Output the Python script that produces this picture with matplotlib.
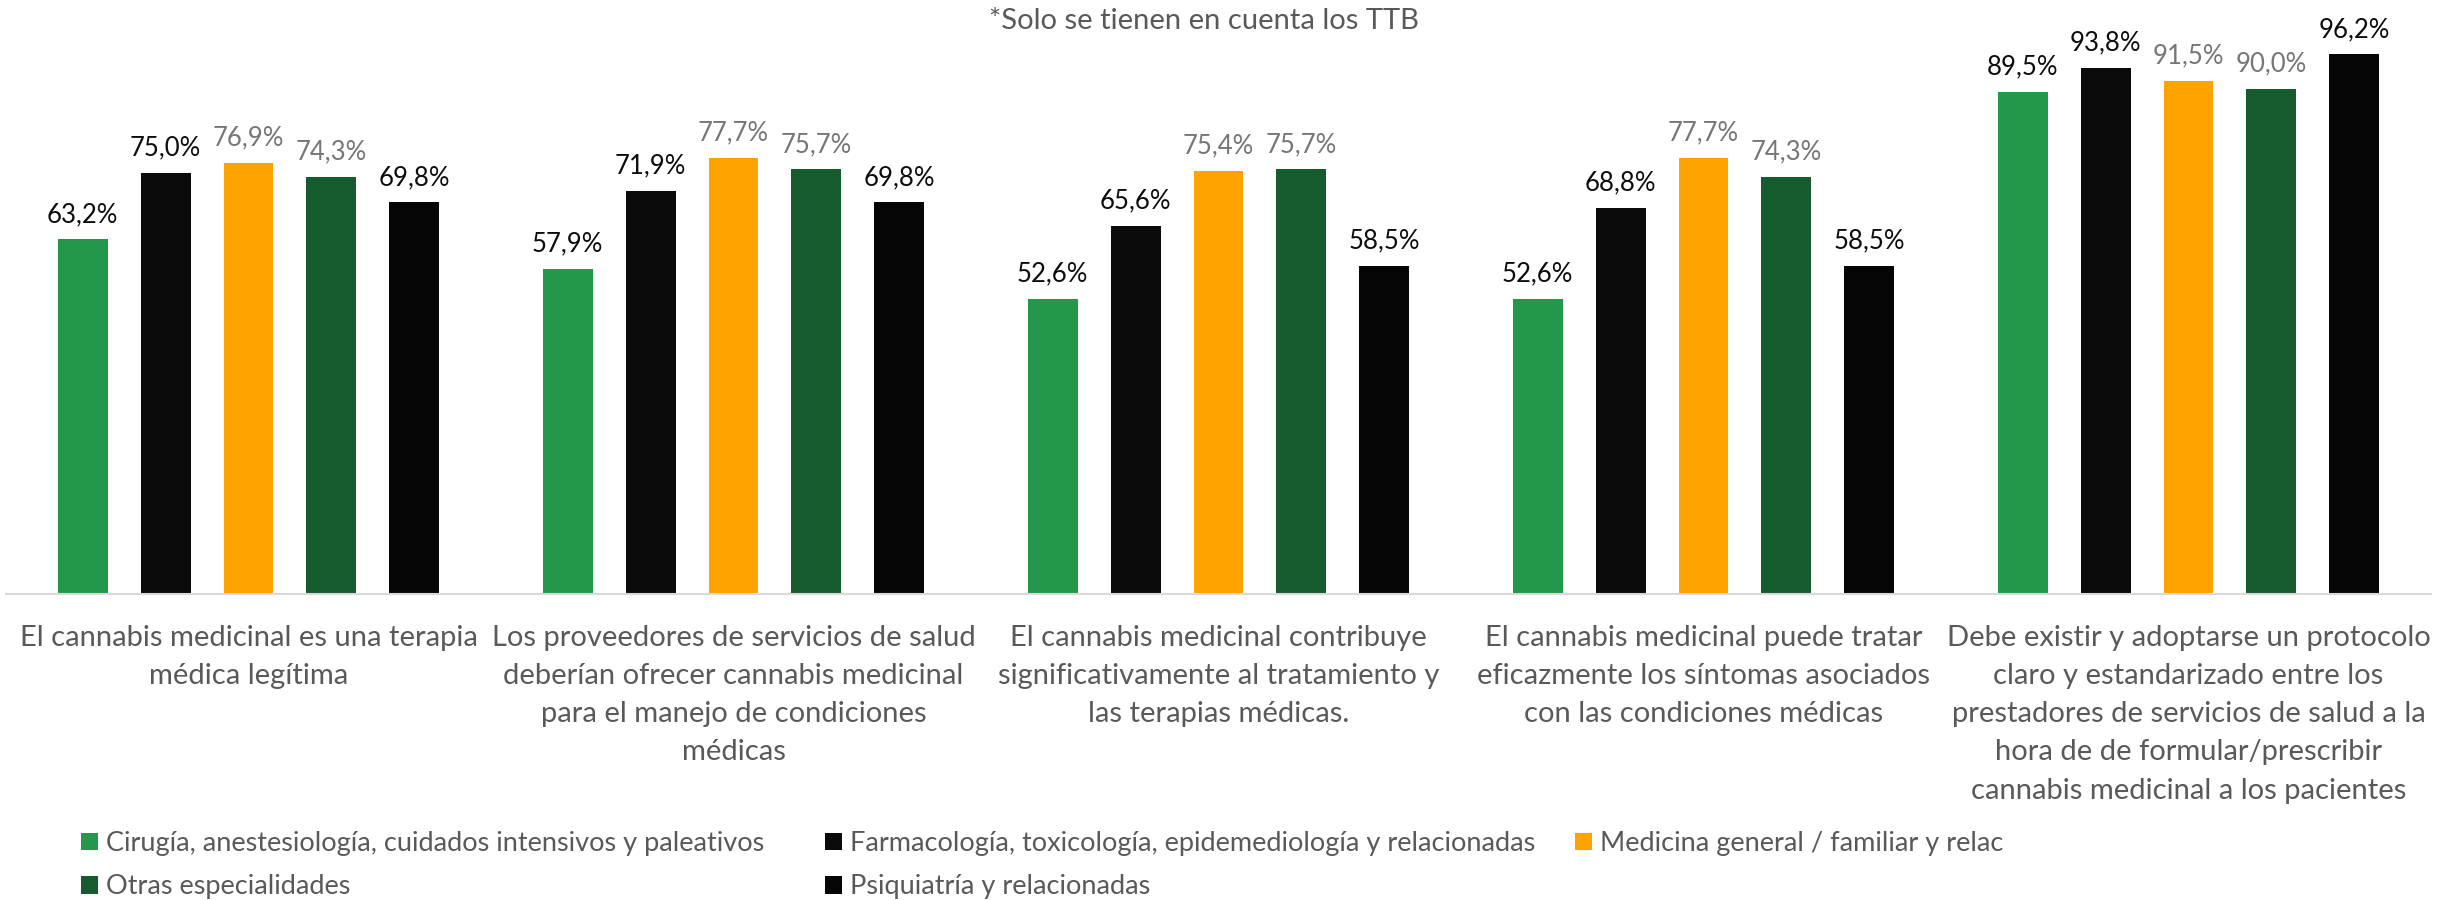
import numpy as np
import matplotlib.pyplot as plt
from matplotlib.patches import Patch

plt.rcParams['font.family'] = ['Lato', 'DejaVu Sans']

# data (percent of TTB answers)
categories = [
    "El cannabis medicinal es una terapia\nmédica legítima",
    "Los proveedores de servicios de salud\ndeberían ofrecer cannabis medicinal\npara el manejo de condiciones\nmédicas",
    "El cannabis medicinal contribuye\nsignificativamente al tratamiento y\nlas terapias médicas.",
    "El cannabis medicinal puede tratar\neficazmente los síntomas asociados\ncon las condiciones médicas",
    "Debe existir y adoptarse un protocolo\nclaro y estandarizado entre los\nprestadores de servicios de salud a la\nhora de de formular/prescribir\ncannabis medicinal a los pacientes",
]
series_names = [
    "Cirugía, anestesiología, cuidados intensivos y paleativos",
    "Farmacología, toxicología, epidemediología y relacionadas",
    "Medicina general / familiar y relac",
    "Otras especialidades",
    "Psiquiatría y relacionadas",
]
cirugia = [63.2, 57.9, 52.6, 52.6, 89.5]
farmacologia = [75.0, 71.9, 65.6, 68.8, 93.8]
medicina_general = [76.9, 77.7, 75.4, 77.7, 91.5]
otras = [74.3, 75.7, 75.7, 74.3, 90.0]
psiquiatria = [69.8, 69.8, 58.5, 58.5, 96.2]
series = [cirugia, farmacologia, medicina_general, otras, psiquiatria]

bar_colors = ['#23984A', '#0A0A0A', '#FFA300', '#165B2D', '#050505']
label_colors = ['#0D0D0D', '#0D0D0D', '#767676', '#767676', '#0D0D0D']

fig = plt.figure(figsize=(24.5, 9), dpi=100)
ax = fig.add_axes([6 / 2450, 306 / 900, 2425 / 2450, 561 / 900])

x = np.arange(len(categories))
pitch = 0.171
width = 0.103
for i, vals in enumerate(series):
    bars = ax.bar(x + (i - 2) * pitch, vals, width, color=bar_colors[i],
                  label=series_names[i])
    ax.bar_label(bars, labels=[f"{v:.1f}%".replace('.', ',') for v in vals],
                 padding=9, fontsize=18.5, color=label_colors[i])

ax.set_xlim(-0.5, 4.5)
ax.set_ylim(0, 100)
ax.set_yticks([])
for s in ['top', 'right', 'left']:
    ax.spines[s].set_visible(False)
ax.spines['bottom'].set_color('#D9D9D9')
ax.spines['bottom'].set_linewidth(1.5)
ax.set_xticks(x)
ax.set_xticklabels(categories, fontsize=21, color='#595959', linespacing=1.585)
ax.tick_params(axis='x', length=0, pad=22)

fig.text(1204 / 2450, 1 - 21 / 900, "*Solo se tienen en cuenta los TTB",
         ha='center', va='center', fontsize=21, color='#595959')

# legend laid out as three fixed-width columns like the original
handles = [Patch(facecolor=c) for c in bar_colors]
columns = [[0, 3], [1, 4], [2]]
col_x = [81, 825, 1575]
for cx, idx in zip(col_x, columns):
    fig.legend([handles[k] for k in idx], [series_names[k] for k in idx],
               loc='upper left', bbox_to_anchor=(cx / 2450, 1 - 831 / 900),
               frameon=False, fontsize=19.5, labelcolor='#595959',
               handlelength=0.63, handleheight=0.63, handletextpad=0.28,
               borderpad=0, borderaxespad=0, labelspacing=0.68)

fig.savefig('out.png', dpi=100)
